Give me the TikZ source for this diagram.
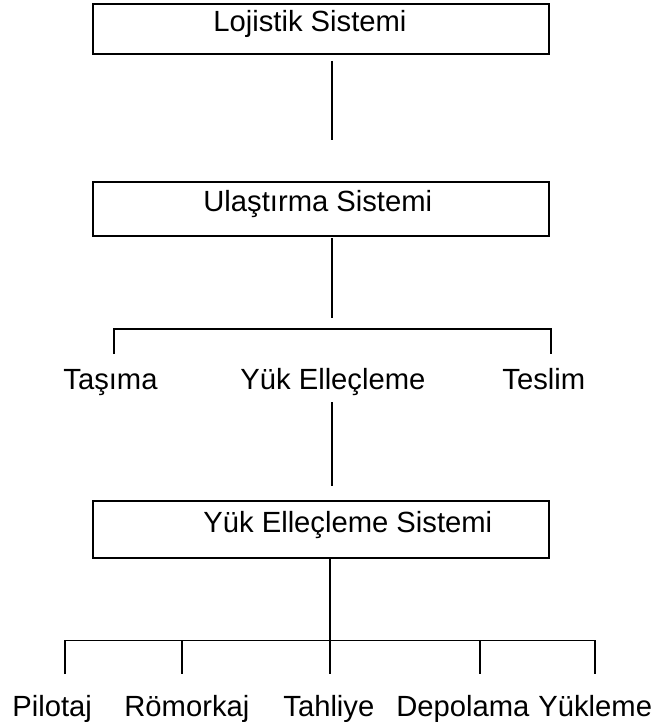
\documentclass[tikz,border=0pt]{standalone}
\usepackage{fontspec}
\setmainfont{Liberation Sans}
\usepackage{tikz}

\begin{document}
\begin{tikzpicture}[x=0.5pt,y=-0.5pt,
  kutu/.style={draw,line width=0.9pt,minimum width=228pt,inner sep=0pt},
  yazi/.style={anchor=base west,inner sep=0pt,font=\fontsize{14.6pt}{17pt}\selectfont},
  hat/.style={line width=0.6pt}]
\useasboundingbox (0,0) rectangle (668,722);
% kutular
\node[kutu,minimum height=25pt] (lojistik) at (321,29) {};
\node[yazi] (lojistikad) at (213,32) {Lojistik Sistemi};
\node[kutu,minimum height=27pt] (ulastirma) at (321,209) {};
\node[yazi] (ulastirmaad) at (203,211) {Ulaştırma Sistemi};
\node[kutu,minimum height=28.5pt] (yuksistem) at (321,529.5) {};
\node[yazi] (yuksistemad) at (203,532) {Yük Elleçleme Sistemi};
% alt basliklar
\node[yazi] (tasima) at (63,389) {Taşıma};
\node[yazi] (elleclem) at (240,389) {Yük Elleçleme};
\node[yazi] (teslim) at (502,389) {Teslim};
\node[yazi] (pilotaj) at (12,716) {Pilotaj};
\node[yazi] (romorkaj) at (124,716) {Römorkaj};
\node[yazi] (tahliye) at (283,716) {Tahliye};
\node[yazi] (depolama) at (396,716) {Depolama};
\node[yazi] (yukleme) at (538,716) {Yükleme};
% baglanti uclari
\coordinate (a1) at (332,61);
\coordinate (a2) at (332,140);
\coordinate (b1) at (332,238);
\coordinate (b2) at (332,318);
\coordinate (c1) at (332,402);
\coordinate (c2) at (332,486);
% cizgiler
\draw[hat] (a1) -- (a2);
\draw[hat] (b1) -- (b2);
\draw[hat] (114,354) -- (114,329) -- (551,329) -- (551,354);
\draw[hat] (c1) -- (c2);
\draw[hat] (yuksistem.south -| 330,0) -- (330,674);
\draw[hat] (65,674) -- (65,640.5) -- (595,640.5) -- (595,674);
\draw[hat] (182,640.5) -- (182,674);
\draw[hat] (480,640.5) -- (480,674);
\end{tikzpicture}
\end{document}
